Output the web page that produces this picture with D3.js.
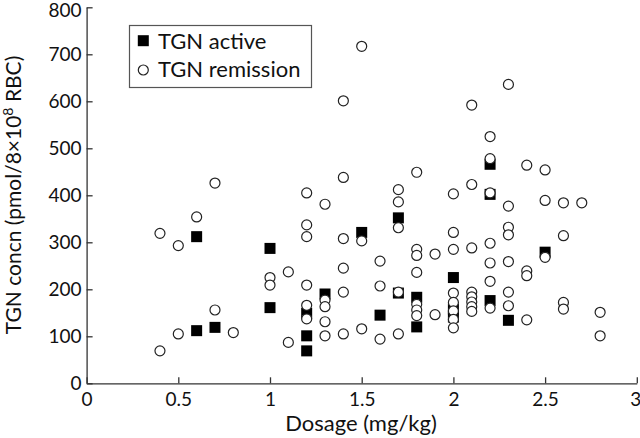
<!DOCTYPE html>
<html><head><meta charset="utf-8">
<script src="https://cdn.jsdelivr.net/npm/d3@7"></script>
<style>
html,body{margin:0;padding:0;background:#fff;}
svg text{font-family:Lato,"Noto Sans",sans-serif;fill:#111;}
</style></head>
<body><svg id="c" width="640" height="438"></svg>
<script>
// Active (filled squares): [dosage, TGN]
const activeDose = [0.6,0.6,0.7,1.0,1.0,1.2,1.2,1.2,1.3,1.5,1.6,1.7,1.7,1.8,1.8,2.0,2.0,2.0,2.2,2.2,2.2,2.3,2.5];
const activeTGN  = [312,112,119,287,161,149,101,69,190,321,145,352,192,183,120,225,158,141,466,402,176,134,279];
// Remission (open circles)
const remDose = [0.4,0.4,0.5,0.5,0.6,0.7,0.7,0.8,1.0,1.0,1.1,1.1,
  1.2,1.2,1.2,1.2,1.2,1.2,1.3,1.3,1.3,1.3,1.3,
  1.4,1.4,1.4,1.4,1.4,1.4,1.5,1.5,1.5,1.6,1.6,1.6,
  1.7,1.7,1.7,1.7,1.7,1.8,1.8,1.8,1.8,1.8,1.8,1.8,1.9,1.9,
  2.0,2.0,2.0,2.0,2.0,2.0,2.0,2.0,2.1,2.1,2.1,2.1,2.1,2.1,2.1,2.1,
  2.2,2.2,2.2,2.2,2.2,2.2,2.2,2.3,2.3,2.3,2.3,2.3,2.3,2.3,
  2.4,2.4,2.4,2.4,2.5,2.5,2.5,2.6,2.6,2.6,2.6,2.7,2.8,2.8];
const remTGN = [319,69,293,105,354,426,156,108,225,209,237,87,
  405,337,312,209,166,137,381,177,163,131,101,
  601,438,308,245,194,105,717,303,116,260,207,94,
  412,386,331,194,105,449,285,272,236,168,156,144,275,146,
  403,321,285,192,172,154,136,118,592,423,288,194,184,173,163,153,
  525,478,405,298,256,217,160,636,377,332,316,259,194,165,
  464,239,229,135,454,389,268,384,314,172,158,384,151,101];
const xTicks = [0,0.5,1,1.5,2,2.5,3];
const xTickLabels = ["0","0.5","1","1.5","2","2.5","3"];
const yTicks = [0,100,200,300,400,500,600,700,800];
const legendLabels = ["TGN active","TGN remission"];

const svg = d3.select("#c");
const L=86.6, R=636.8, T=7.3, B=383.3;
const x = d3.scaleLinear().domain([0,3]).range([L,R]);
const y = d3.scaleLinear().domain([0,800]).range([B,T]);

const tfs = 19, bfs = 22;
// axes
const xAxis = svg.append("g").attr("transform",`translate(0,${B})`)
  .call(d3.axisBottom(x).tickValues(xTicks).tickFormat((d,i)=>xTickLabels[i]).tickSizeInner(-6).tickSizeOuter(0).tickPadding(9));
const yAxis = svg.append("g").attr("transform",`translate(${L},0)`)
  .call(d3.axisLeft(y).tickValues(yTicks).tickSizeInner(-6).tickSizeOuter(0).tickPadding(5));
[xAxis,yAxis].forEach(a=>{
  a.select(".domain").attr("stroke","#333").attr("stroke-width",1.3);
  a.selectAll(".tick line").attr("stroke","#333").attr("stroke-width",1.3);
  a.selectAll("text").attr("font-size",tfs).attr("font-family","Lato,'Noto Sans',sans-serif").attr("fill","#111");
});
xAxis.selectAll(".tick text").attr("dy","0.71em");
// last x label kept inside the picture
xAxis.selectAll(".tick text").filter(d=>d===3).attr("text-anchor","end").attr("dx","4");
yAxis.selectAll(".tick text").filter(d=>d===800).attr("dy","0.5em");

// axis titles
svg.append("text").attr("x",361).attr("y",431).attr("text-anchor","middle")
  .attr("font-size",bfs).text("Dosage (mg/kg)");
const yt = svg.append("text").attr("transform",`translate(21,195) rotate(-90)`)
  .attr("text-anchor","middle").attr("font-size",21);
yt.append("tspan").text("TGN concn (pmol/8×10");
yt.append("tspan").attr("font-size",14).attr("dy",-8).text("8");
yt.append("tspan").attr("dy",8).text(" RBC)");

// marks
const sq = 11;
svg.append("g").selectAll("rect").data(activeDose).join("rect")
  .attr("x",(d)=>x(d)-sq/2).attr("y",(d,i)=>y(activeTGN[i])-sq/2)
  .attr("width",sq).attr("height",sq).attr("fill","#000");
svg.append("g").selectAll("circle").data(remDose).join("circle")
  .attr("cx",d=>x(d)).attr("cy",(d,i)=>y(remTGN[i])).attr("r",5)
  .attr("fill","#fff").attr("stroke","#222").attr("stroke-width",1.2);

// legend
const lg = svg.append("g");
lg.append("rect").attr("x",129.5).attr("y",25.5).attr("width",182).attr("height",62)
  .attr("fill","#fff").attr("stroke","#555").attr("stroke-width",1.2);
lg.append("rect").attr("x",143.3-sq/2).attr("y",40.7-sq/2).attr("width",sq).attr("height",sq).attr("fill","#000");
lg.append("circle").attr("cx",143.3).attr("cy",70).attr("r",5).attr("fill","#fff").attr("stroke","#222").attr("stroke-width",1.2);
lg.append("text").attr("x",158).attr("y",49).attr("font-size",bfs).text(legendLabels[0]);
lg.append("text").attr("x",158).attr("y",77).attr("font-size",bfs).text(legendLabels[1]);
</script></body></html>
